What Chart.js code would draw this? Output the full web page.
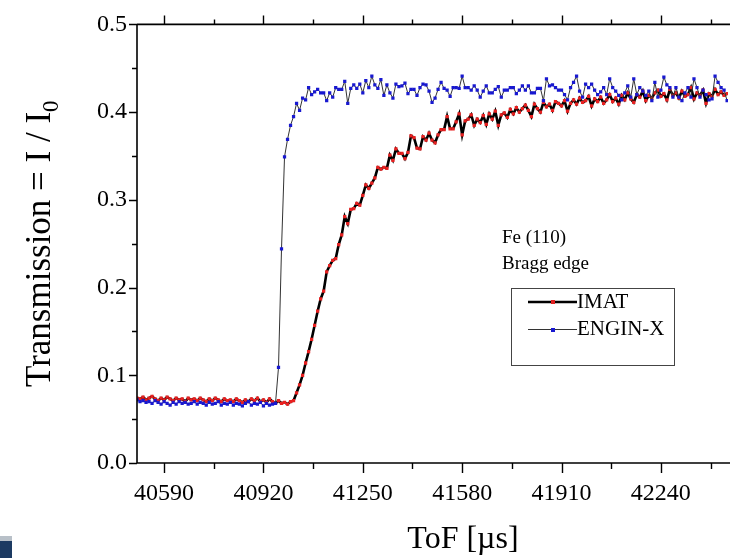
<!DOCTYPE html>
<html>
<head>
<meta charset="utf-8">
<title>Fe (110) Bragg edge</title>
<style>
  html, body { margin: 0; padding: 0; background: #fff; overflow: hidden; }
  #wrap { position: relative; width: 732px; height: 558px; }
</style>
</head>
<body>
<div id="wrap"><canvas id="chart" width="732" height="558"></canvas></div>
<script src="https://cdn.jsdelivr.net/npm/chart.js@4.4.0/dist/chart.umd.min.js"></script>
<script>
// ToF bins (µs): first bin and bin width
const tofStart = 40500;
const tofStep = 10;

// axis ticks
const xMajorTicks = [40590, 40920, 41250, 41580, 41910, 42240];
const xMinorTicks = [40755, 41085, 41415, 41745, 42075, 42405];
const yMajorTicks = [0.0, 0.1, 0.2, 0.3, 0.4, 0.5];
const yMinorTicks = [0.05, 0.15, 0.25, 0.35, 0.45];

// IMAT transmission, one value per bin
const imatValues = [
    0.074, 0.073, 0.075, 0.072, 0.074, 0.076, 0.073, 0.071, 0.074, 0.072,
    0.075, 0.073, 0.071, 0.074, 0.072, 0.073, 0.070, 0.074, 0.072, 0.073,
    0.071, 0.074, 0.072, 0.070, 0.073, 0.071, 0.074, 0.072, 0.070, 0.073,
    0.071, 0.072, 0.070, 0.073, 0.071, 0.069, 0.072, 0.070, 0.073, 0.071,
    0.074, 0.070, 0.072, 0.069, 0.073, 0.070, 0.068, 0.071, 0.068, 0.069,
    0.067, 0.070, 0.071, 0.080, 0.089, 0.100, 0.114, 0.127, 0.141, 0.157,
    0.173, 0.187, 0.196, 0.218, 0.225, 0.231, 0.233, 0.249, 0.260, 0.281,
    0.273, 0.289, 0.290, 0.296, 0.294, 0.305, 0.317, 0.313, 0.319, 0.325,
    0.337, 0.335, 0.337, 0.336, 0.351, 0.345, 0.358, 0.353, 0.353, 0.347,
    0.354, 0.373, 0.371, 0.359, 0.358, 0.372, 0.368, 0.376, 0.368, 0.365,
    0.374, 0.380, 0.380, 0.395, 0.381, 0.381, 0.389, 0.398, 0.374, 0.390,
    0.392, 0.397, 0.385, 0.392, 0.388, 0.396, 0.386, 0.398, 0.392, 0.401,
    0.385, 0.397, 0.399, 0.394, 0.403, 0.398, 0.405, 0.400, 0.404, 0.408,
    0.402, 0.395, 0.409, 0.404, 0.400, 0.411, 0.406, 0.409, 0.402, 0.412,
    0.410, 0.407, 0.413, 0.401, 0.410, 0.414, 0.409, 0.416, 0.411, 0.413,
    0.418, 0.407, 0.415, 0.412, 0.417, 0.410, 0.414, 0.420, 0.412, 0.416,
    0.409, 0.419, 0.414, 0.422, 0.415, 0.411, 0.420, 0.417, 0.424, 0.413,
    0.419, 0.416, 0.422, 0.425, 0.418, 0.421, 0.414, 0.426, 0.419, 0.422,
    0.416, 0.424, 0.418, 0.420, 0.428, 0.415, 0.422, 0.419, 0.425, 0.410,
    0.421, 0.418, 0.426, 0.420, 0.423, 0.419, 0.421
];

// ENGIN-X transmission, one value per bin
const enginxValues = [
    0.072, 0.070, 0.071, 0.069, 0.070, 0.068, 0.071, 0.069, 0.067, 0.070,
    0.068, 0.066, 0.069, 0.067, 0.070, 0.068, 0.069, 0.067, 0.068, 0.070,
    0.067, 0.069, 0.068, 0.066, 0.069, 0.067, 0.068, 0.070, 0.066, 0.068,
    0.067, 0.069, 0.066, 0.068, 0.067, 0.065, 0.068, 0.070, 0.066, 0.068,
    0.067, 0.069, 0.065, 0.068, 0.066, 0.067, 0.068, 0.109, 0.244, 0.349,
    0.369, 0.385, 0.395, 0.410, 0.402, 0.416, 0.414, 0.428, 0.420, 0.423,
    0.426, 0.422, 0.422, 0.413, 0.422, 0.417, 0.428, 0.426, 0.426, 0.435,
    0.410, 0.427, 0.431, 0.427, 0.432, 0.422, 0.436, 0.428, 0.441, 0.431,
    0.427, 0.437, 0.419, 0.431, 0.422, 0.416, 0.432, 0.429, 0.430, 0.433,
    0.421, 0.426, 0.426, 0.419, 0.428, 0.432, 0.431, 0.424, 0.411, 0.416,
    0.426, 0.434, 0.427, 0.425, 0.418, 0.428, 0.428, 0.427, 0.441, 0.428,
    0.428, 0.425, 0.430, 0.425, 0.417, 0.424, 0.430, 0.422, 0.422, 0.426,
    0.429, 0.417, 0.425, 0.425, 0.428, 0.428, 0.421, 0.425, 0.430, 0.425,
    0.430, 0.422, 0.422, 0.427, 0.427, 0.413, 0.438, 0.430, 0.431, 0.428,
    0.425, 0.425, 0.420, 0.414, 0.428, 0.434, 0.441, 0.424, 0.417, 0.432,
    0.428, 0.432, 0.425, 0.420, 0.423, 0.428, 0.420, 0.438, 0.428, 0.424,
    0.419, 0.414, 0.422, 0.430, 0.417, 0.438, 0.420, 0.428, 0.424, 0.419,
    0.424, 0.413, 0.434, 0.417, 0.425, 0.440, 0.431, 0.428, 0.417, 0.428,
    0.417, 0.413, 0.422, 0.428, 0.417, 0.438, 0.428, 0.417, 0.425, 0.420,
    0.414, 0.415, 0.441, 0.434, 0.428, 0.425, 0.413
];

const FONT = '"Liberation Serif", "Times New Roman", serif';

function toPoints(values) {
    return values.map(function(v, i) {
        return { x: tofStart + i * tofStep, y: v };
    });
}

function isMajorY(v) {
    return Math.abs(v * 10 - Math.round(v * 10)) < 1e-6;
}

// frame, tick marks, axis titles, annotation text and legend box
const decorPlugin = {
    id: 'decor',
    afterDraw: function(chart) {
        const ctx = chart.ctx;
        const area = chart.chartArea;
        const xs = chart.scales.x;
        const ys = chart.scales.y;
        ctx.save();
        ctx.strokeStyle = '#000';
        ctx.lineWidth = 1.6;
        ctx.beginPath();
        ctx.moveTo(area.left, area.top);
        ctx.lineTo(area.right + 2, area.top);
        ctx.moveTo(area.left, area.top);
        ctx.lineTo(area.left, area.bottom);
        ctx.lineTo(area.right + 2, area.bottom);
        ctx.stroke();

        ctx.lineWidth = 1.4;
        ctx.beginPath();
        xMajorTicks.concat(xMinorTicks).forEach(function(v) {
            const px = Math.round(xs.getPixelForValue(v)) + 0.5;
            const major = xMajorTicks.includes(v);
            ctx.moveTo(px, area.bottom);
            ctx.lineTo(px, area.bottom + (major ? 10 : 6));
            ctx.moveTo(px, area.top);
            ctx.lineTo(px, area.top - (major ? 9 : 5));
        });
        yMajorTicks.concat(yMinorTicks).forEach(function(v) {
            const py = Math.round(ys.getPixelForValue(v)) + 0.5;
            ctx.moveTo(area.left, py);
            ctx.lineTo(area.left - (isMajorY(v) ? 8 : 5), py);
        });
        ctx.stroke();

        ctx.fillStyle = '#000';
        // x title
        ctx.font = '32px ' + FONT;
        ctx.textAlign = 'center';
        ctx.textBaseline = 'middle';
        ctx.fillText('ToF [µs]', 463, 540);

        // y title with subscript
        ctx.save();
        ctx.translate(38, (area.top + area.bottom) / 2);
        ctx.rotate(-Math.PI / 2);
        const main = 'Transmission = I / I';
        ctx.font = '35px ' + FONT;
        const wMain = ctx.measureText(main).width;
        ctx.font = '23px ' + FONT;
        const wSub = ctx.measureText('0').width;
        const x0 = -(wMain + wSub) / 2;
        ctx.textAlign = 'left';
        ctx.textBaseline = 'alphabetic';
        ctx.font = '35px ' + FONT;
        ctx.fillText(main, x0, 12);
        ctx.font = '23px ' + FONT;
        ctx.fillText('0', x0 + wMain, 20);
        ctx.restore();

        // annotation
        ctx.font = '19px ' + FONT;
        ctx.textAlign = 'left';
        ctx.textBaseline = 'middle';
        ctx.fillText('Fe (110)', 502, 238);
        ctx.fillText('Bragg edge', 502, 264);

        // legend
        ctx.lineWidth = 1;
        ctx.strokeStyle = '#444';
        ctx.strokeRect(511.5, 288.5, 163, 77);
        ctx.strokeStyle = '#000';
        ctx.lineWidth = 2.6;
        ctx.beginPath();
        ctx.moveTo(528, 302);
        ctx.lineTo(577, 302);
        ctx.stroke();
        ctx.fillStyle = '#e02020';
        ctx.fillRect(551, 300, 4, 4);
        ctx.strokeStyle = '#333';
        ctx.lineWidth = 1;
        ctx.beginPath();
        ctx.moveTo(528, 329.5);
        ctx.lineTo(577, 329.5);
        ctx.stroke();
        ctx.fillStyle = '#1818d0';
        ctx.fillRect(551, 328, 4, 4);
        ctx.fillStyle = '#000';
        ctx.font = '21px ' + FONT;
        ctx.fillText('IMAT', 577, 302);
        ctx.fillText('ENGIN-X', 577, 329);

        // screenshot corner at bottom left
        ctx.fillStyle = '#b8c0c8';
        ctx.fillRect(0, 536, 12, 5);
        ctx.fillStyle = '#1c3a62';
        ctx.fillRect(0, 541, 12, 17);
        ctx.restore();
    }
};

new Chart(document.getElementById('chart'), {
    type: 'line',
    data: {
        datasets: [{
            label: 'IMAT',
            data: toPoints(imatValues),
            borderColor: '#000',
            borderWidth: 2.6,
            pointStyle: 'rect',
            pointRadius: 2.3,
            pointBackgroundColor: '#e82020',
            pointBorderColor: '#e82020',
            pointBorderWidth: 0,
            tension: 0,
            order: 2
        }, {
            label: 'ENGIN-X',
            data: toPoints(enginxValues),
            borderColor: '#333',
            borderWidth: 1,
            pointStyle: 'rect',
            pointRadius: 2.3,
            pointBackgroundColor: '#1818d0',
            pointBorderColor: '#1818d0',
            pointBorderWidth: 0,
            tension: 0,
            order: 1
        }]
    },
    options: {
        responsive: false,
        animation: false,
        layout: { padding: { top: 20, right: 0, left: 0, bottom: 0 } },
        plugins: {
            legend: { display: false },
            tooltip: { enabled: false }
        },
        scales: {
            x: {
                type: 'linear',
                min: 40500,
                max: 42463,
                afterBuildTicks: function(scale) {
                    scale.ticks = xMajorTicks.concat(xMinorTicks)
                        .sort(function(a, b) { return a - b; })
                        .map(function(v) { return { value: v }; });
                },
                afterFit: function(scale) { scale.height = 95; },
                grid: { display: false, drawTicks: false },
                border: { display: false },
                ticks: {
                    autoSkip: false,
                    maxRotation: 0,
                    padding: 16,
                    color: '#000',
                    font: { family: FONT, size: 24 },
                    callback: function(v) {
                        return xMajorTicks.includes(v) ? String(v) : '';
                    }
                }
            },
            y: {
                min: 0,
                max: 0.5,
                afterBuildTicks: function(scale) {
                    scale.ticks = yMajorTicks.concat(yMinorTicks)
                        .sort(function(a, b) { return a - b; })
                        .map(function(v) { return { value: v }; });
                },
                afterFit: function(scale) { scale.width = 137; },
                grid: { display: false, drawTicks: false },
                border: { display: false },
                ticks: {
                    autoSkip: false,
                    padding: 10,
                    color: '#000',
                    font: { family: FONT, size: 24 },
                    callback: function(v) {
                        return isMajorY(v) ? v.toFixed(1) : '';
                    }
                }
            }
        }
    },
    plugins: [decorPlugin]
});
</script>
</body>
</html>
